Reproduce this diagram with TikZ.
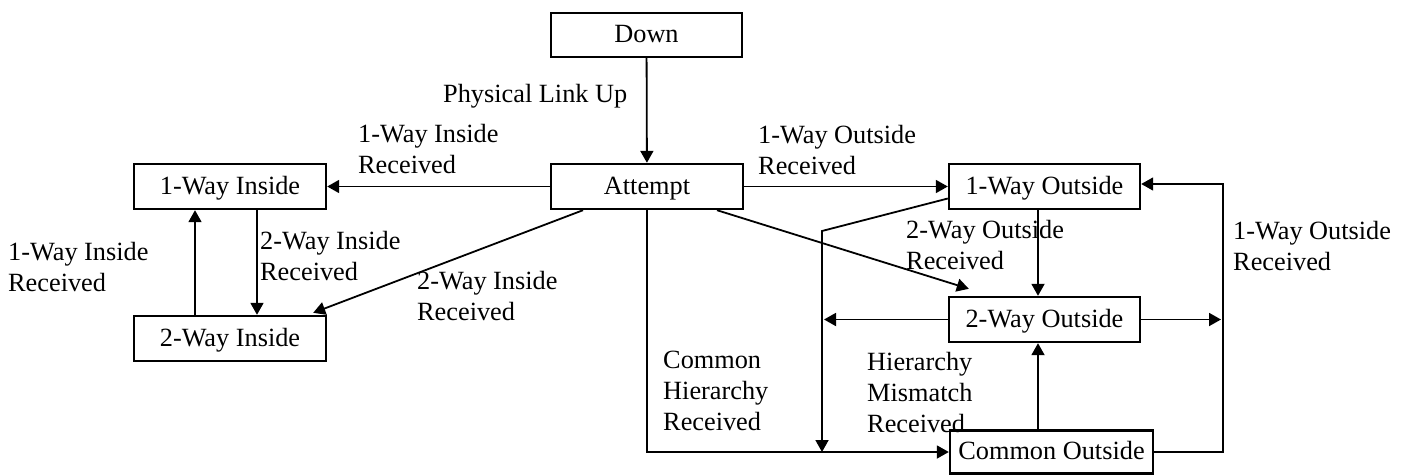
\documentclass[tikz,border=0pt]{standalone}
\usepackage{fontspec}
\setmainfont{Liberation Serif}
\usetikzlibrary{arrows.meta}
\newcommand\lblfont{\fontsize{26.3pt}{31pt}\selectfont}
\begin{document}
\begin{tikzpicture}[x=1pt,y=-1pt,
  state/.style={draw, line width=2.4pt, inner sep=0pt, minimum width=192pt,
    minimum height=45pt, text height=18pt, text depth=3pt, font=\lblfont},
  conn/.style={line width=1.8pt, -{Triangle[length=12pt,width=13pt]}},
  lbl/.style={anchor=north west, inner sep=0pt, align=left, font=\lblfont}]
\useasboundingbox (0,0) rectangle (1412,474);

% states
\node[state, minimum width=191pt, minimum height=44pt] (down) at (646.5,35) {Down};
\node[state] (attempt) at (647,186.5) {Attempt};
\node[state] (owi) at (230,186.5) {1-Way Inside};
\node[state] (twi) at (230,338.5) {2-Way Inside};
\node[state, minimum width=191pt] (owo) at (1044.5,186.5) {1-Way Outside};
\node[state, minimum width=191pt] (two) at (1044.5,319.5) {2-Way Outside};
\node[state, minimum width=203pt, minimum height=43pt] (co) at (1051.5,452) {Common Outside};

% transitions
\draw[conn] (down) -- (attempt);
\draw[conn] (attempt) -- (owi);
\draw[conn] (attempt) -- (owo);
\draw[conn] ([xshift=27pt]owi.south) -- ([xshift=27pt]twi.north);
\draw[conn] ([xshift=-35pt]twi.north) -- ([xshift=-35pt]owi.south);
\draw[conn] ([xshift=-64pt]attempt.south) -- ([xshift=-14pt,yshift=2pt]twi.north east);
\draw[conn] ([xshift=70pt]attempt.south) -- ([xshift=21pt,yshift=7pt]two.north west);
\draw[conn] ([xshift=-6.5pt]owo.south) -- ([xshift=-6.5pt]two.north);
\draw[conn] ([xshift=-13.5pt]co.north) -- ([xshift=-6.5pt]two.south);

% right-hand return loop
\coordinate (rtop) at (1223,184);
\draw[conn] (co.east) -| (rtop) -- (owo.east |- rtop);
\draw[conn] (two.east) -- ([xshift=-2pt]two.east -| rtop);

% left-hand loop into Common Outside
\coordinate (lk) at (822,231);
\coordinate (lb) at (822,452);
\draw[conn] ([yshift=-12pt]owo.west) -- (lk) -- (lb);
\draw[conn] (two.west) -- ([xshift=2pt]two.west -| lk);
\coordinate (ab) at (647,452);
\draw[conn] (attempt.south) -- (ab) -- (co.west |- ab);

% transition labels
\node[lbl] (lphys) at (443,84) {Physical Link Up};
\node[lbl] (l1wi) at (358,124) {1-Way Inside\\Received};
\node[lbl] (l1wo) at (758,125) {1-Way Outside\\Received};
\node[lbl] (l1wib) at (8,242) {1-Way Inside\\Received};
\node[lbl] (l2wi) at (260,231) {2-Way Inside\\Received};
\node[lbl] (l2wid) at (417,271.5) {2-Way Inside\\Received};
\node[lbl] (l2wo) at (906,220) {2-Way Outside\\Received};
\node[lbl] (l1wor) at (1233,221) {1-Way Outside\\Received};
\node[lbl] (lch) at (663,351) {Common\\Hierarchy\\Received};
\node[lbl] (lhm) at (867,352) {Hierarchy\\Mismatch\\Received};
\end{tikzpicture}
\end{document}
